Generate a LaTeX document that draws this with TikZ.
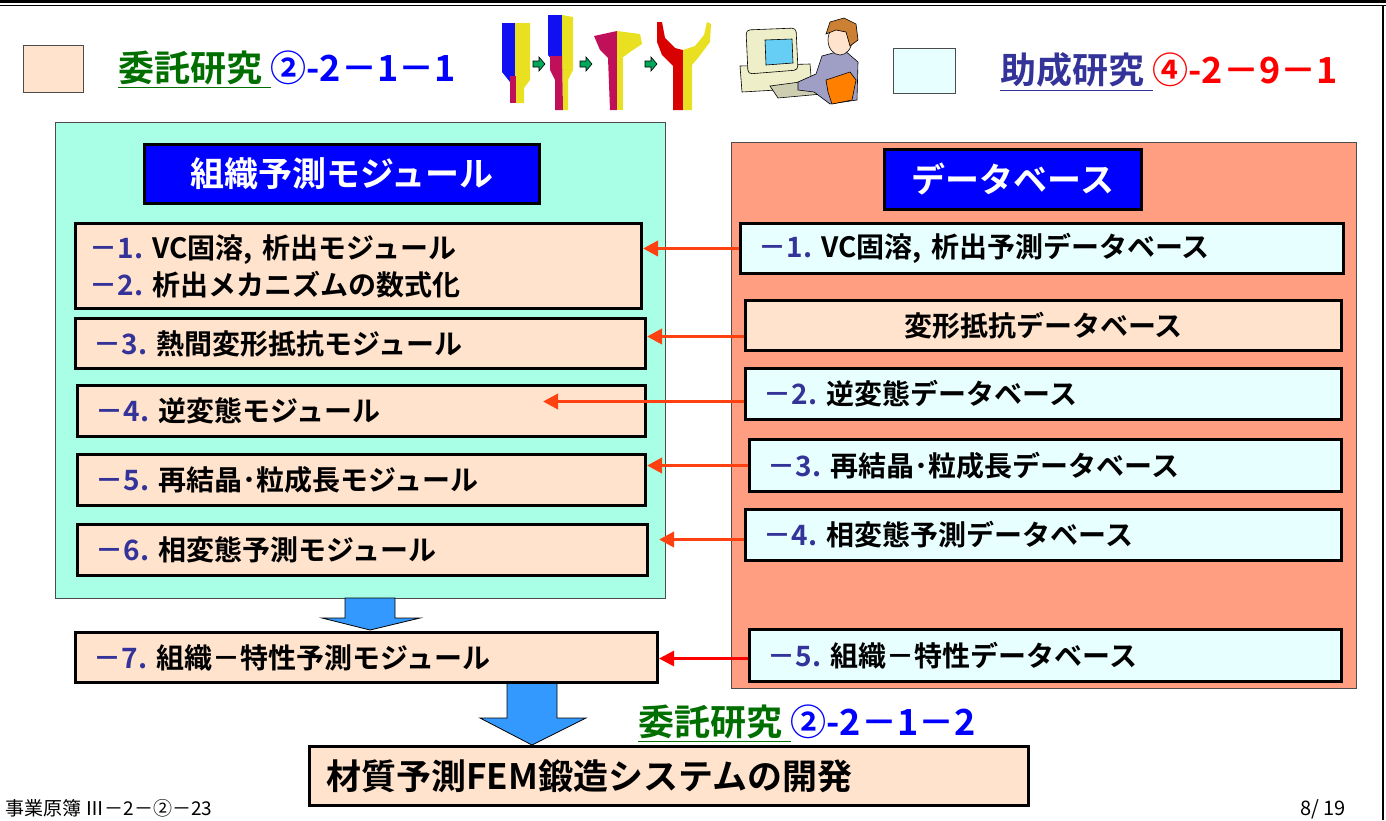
\documentclass[tikz,border=0pt]{standalone}
\usepackage{fontspec}
\setmainfont{Noto Sans CJK JP}[BoldFont={Noto Sans CJK JP Bold}]
\usepackage{xcolor}
\usetikzlibrary{calc, arrows.meta}

\definecolor{peach}{HTML}{FFE3CC}
\definecolor{aqua}{HTML}{A9FFE5}
\definecolor{iceblue}{HTML}{E8FFFF}
\definecolor{salmon}{HTML}{FF9E80}
\definecolor{titleblue}{HTML}{0000FF}
\definecolor{linkred}{HTML}{FF4010}
\definecolor{flowblue}{HTML}{3399FF}
\definecolor{greentext}{HTML}{006F00}
\definecolor{navytext}{HTML}{333399}
\definecolor{forgeblue}{HTML}{1010F0}
\definecolor{forgered}{HTML}{C0105A}
\definecolor{forgeyellow}{HTML}{E8E020}
\definecolor{beige}{HTML}{EEEEC8}

\newcommand{\itemno}[1]{{\color{navytext}－#1.}\ }

\begin{document}
\begin{tikzpicture}[x=0.5pt, y=-0.5pt,
    panel/.style={draw=black!70, line width=0.6pt, anchor=north west, inner sep=0pt},
    headbox/.style={draw=black, line width=1.5pt, fill=titleblue, anchor=north west, text=white,
        font=\bfseries\fontsize{17}{18}\selectfont, align=center, inner sep=0pt},
    module/.style={draw=black, line width=1.5pt, fill=peach, anchor=north west, inner xsep=9pt,
        inner ysep=0pt, align=left, font=\bfseries\fontsize{14}{18.5}\selectfont},
    database/.style={module, fill=iceblue},
    header/.style={anchor=west, inner sep=0pt, font=\bfseries\fontsize{18}{20}\selectfont},
    feed/.style={linkred, line width=1.8pt, -{Triangle[length=7.5pt, width=7.5pt]}},
    flow/.style={draw=black, line width=0.4pt, fill=flowblue},
    clip/.style={draw=black, line width=0.3pt}]
    \useasboundingbox (0,0) rectangle (1386,820);

    \draw[line width=1.2pt] (0,1.5) -- (1386,1.5);
    \draw[line width=0.8pt] (0,5.5) -- (1386,5.5);
    \draw[line width=1.2pt] (1383,5.5) -- (1383,820);

    \node[panel, fill=peach, minimum width=30pt, minimum height=23.5pt] (legendPeach) at (23,45) {};
    \node[header] (headerCommission) at (118,70)
        {{\color{greentext}\underline{委託研究\ }}{\color{titleblue}②-2－1－1}};
    \node[panel, fill=iceblue, minimum width=31pt, minimum height=22.5pt] (legendIce) at (893,48) {};
    \node[header] (headerGrant) at (1000,72)
        {{\color{navytext}\underline{助成研究\ }}{\color{red}④-2－9－1}};

    % forging steps
    \fill[forgeblue] (502,23) -- (515,23) -- (515,82) -- (510,82) -- (502,72) -- cycle;
    \fill[forgeyellow] (515,23) -- (530,23) -- (530,80) -- (524,88) -- (524,103) -- (516,103) -- (515,82) -- cycle;
    \fill[forgered] (510,76) -- (516,76) -- (516,103) -- (510,103) -- cycle;
    \fill[forgeblue] (548,15) -- (562,15) -- (562,57) -- (552,60) -- (548,55) -- cycle;
    \fill[forgeyellow] (562,15) -- (573,17) -- (573,70) -- (568,80) -- (568,110) -- (563,110) -- (562,57) -- cycle;
    \fill[forgered] (550,56) -- (562,56) -- (563,110) -- (555,110) -- (555,80) -- (550,70) -- cycle;
    \fill[forgered] (594,36) -- (617,31) -- (617,58) -- (612,62) -- (600,50) -- cycle;
    \fill[forgeyellow] (617,31) -- (640,34) -- (642,44) -- (630,52) -- (622,58) -- (617,58) -- cycle;
    \fill[forgered] (608,58) -- (617,58) -- (617,110) -- (610,110) -- cycle;
    \fill[forgeyellow] (617,58) -- (623,58) -- (623,110) -- (617,110) -- cycle;
    \fill[red!85!black] (657,22) -- (662,22) -- (665,38) -- (675,48) -- (683,50) -- (683,110) -- (673,110)
        -- (673,66) -- (662,55) -- (657,42) -- cycle;
    \fill[forgeyellow] (683,50) -- (695,46) -- (704,35) -- (707,22) -- (711,24) -- (710,42) -- (698,58)
        -- (692,65) -- (692,110) -- (683,110) -- cycle;
    \foreach \x in {533,580,645}
        \draw[clip, fill=teal!70!green] (\x,61) -- (\x+6,61) -- (\x+6,57) -- (\x+12,64) -- (\x+6,71)
            -- (\x+6,67) -- (\x,67) -- cycle;

    % operator at the terminal
    \draw[clip, fill=beige] (740,66) -- (810,64) -- (812,88) -- (742,92) -- cycle;
    \draw[clip, fill=beige, rounded corners=2pt] (746,30) -- (796,28) -- (798,70) -- (748,74) -- cycle;
    \draw[clip, fill=cyan!60] (765,40) -- (792,39) -- (793,63) -- (766,65) -- cycle;
    \draw[clip, fill=beige!70!gray] (770,86) -- (815,80) -- (822,94) -- (778,98) -- cycle;
    \draw[clip, fill=blue!25!gray!60!white] (798,82) -- (816,74) -- (822,56) -- (844,50) -- (858,62)
        -- (857,100) -- (830,104) -- (814,92) -- (798,90) -- cycle;
    \draw[clip, fill=orange] (826,80) -- (850,72) -- (856,80) -- (852,100) -- (832,104) -- (828,92) -- cycle;
    \draw[clip, fill=peach] (840,40) ellipse (12 and 15);
    \draw[clip, fill=brown!80!orange] (826,34) -- (830,22) -- (844,18) -- (856,24) -- (858,40) -- (850,46)
        -- (846,32) -- (836,30) -- cycle;

    \node[panel, fill=aqua, minimum width=305pt, minimum height=238pt] (modulePanel) at (55,122) {};
    \node[panel, fill=salmon, minimum width=312.5pt, minimum height=273pt] (databasePanel) at (731,142) {};
    \node[headbox, minimum width=197.5pt, minimum height=29.5pt] (moduleTitle) at (143,143) {組織予測モジュール};
    \node[headbox, minimum width=128.5pt, minimum height=30pt] (databaseTitle) at (883,148) {データベース};

    \draw[flow] (345,598) -- (395,598) -- (395,618) -- (420,618) -- (370,630) -- (322,618) -- (345,618) -- cycle;
    \draw[flow] (507,682) -- (557,682) -- (557,718) -- (586,718) -- (532,745) -- (480,718) -- (507,718) -- cycle;

    \node[module, inner xsep=7pt, text width=269pt, minimum height=42.5pt] (precipModule) at (74,222)
        {\itemno{1}VC固溶, 析出モジュール\\ \itemno{2}析出メカニズムの数式化};
    \node[module, text width=267pt, minimum height=25pt] (deformModule) at (74,317) {\itemno{3}熱間変形抵抗モジュール};
    \node[module, text width=266pt, minimum height=25.5pt] (reverseModule) at (76,384) {\itemno{4}逆変態モジュール};
    \node[module, text width=266pt, minimum height=25.5pt] (grainModule) at (76,453) {\itemno{5}再結晶･粒成長モジュール};
    \node[module, text width=267pt, minimum height=25.5pt] (phaseModule) at (76,523) {\itemno{6}相変態予測モジュール};
    \node[module, text width=273pt, minimum height=25pt] (propertyModule) at (74,631) {\itemno{7}組織－特性予測モジュール};

    \node[database, text width=283.5pt, minimum height=25pt] (precipData) at (739,222) {\itemno{1}VC固溶, 析出予測データベース};
    \node[module, align=center, text width=280pt, minimum height=25pt] (deformData) at (744,299) {変形抵抗データベース};
    \node[database, text width=280pt, minimum height=25.5pt] (reverseData) at (744,367) {\itemno{2}逆変態データベース};
    \node[database, text width=278pt, minimum height=26pt] (grainData) at (748,438) {\itemno{3}再結晶･粒成長データベース};
    \node[database, text width=280pt, minimum height=25.5pt] (phaseData) at (744,508) {\itemno{4}相変態予測データベース};
    \node[database, text width=278pt, minimum height=26pt] (propertyData) at (748,628) {\itemno{5}組織－特性データベース};

    \draw[feed] (precipData.west) -- (precipData.west -| precipModule.east);
    \draw[feed] ($(deformData.west)+(0,11)$) -- ($(deformData.west -| deformModule.east)+(0,11)$);
    \draw[feed] ($(reverseData.west)+(0,7.5)$) -- ($(reverseData.west -| reverseModule.east)+(-104,7.5)$);
    \draw[feed] (grainData.west) -- (grainData.west -| grainModule.east);
    \draw[feed] ($(phaseData.west)+(0,4.5)$) -- ($(phaseData.west -| phaseModule.east)+(10,4.5)$);
    \draw[feed, red, line width=1.4pt] ($(propertyData.west)+(0,3)$) -- ($(propertyData.west -| propertyModule.east)+(0,3)$);

    \node[header] (headerCommissionB) at (638,724)
        {{\color{greentext}\underline{委託研究\ }}{\color{titleblue}②-2－1－2}};
    \node[module, inner xsep=8.5pt, text width=342.5pt, minimum height=29.5pt,
        font=\bfseries\fontsize{17.5}{20}\selectfont] (forgingSystem) at (308,745) {材質予測FEM鍛造システムの開発};

    \node[anchor=north west, inner sep=0pt, font=\fontsize{9.5}{11}\selectfont] (pageRef) at (5,799) {事業原簿 Ⅲ－2－②－23};
    \node[anchor=north west, inner sep=0pt, font=\fontsize{10}{11}\selectfont] (pageNo) at (1300,799) {8/ 19};
\end{tikzpicture}
\end{document}
